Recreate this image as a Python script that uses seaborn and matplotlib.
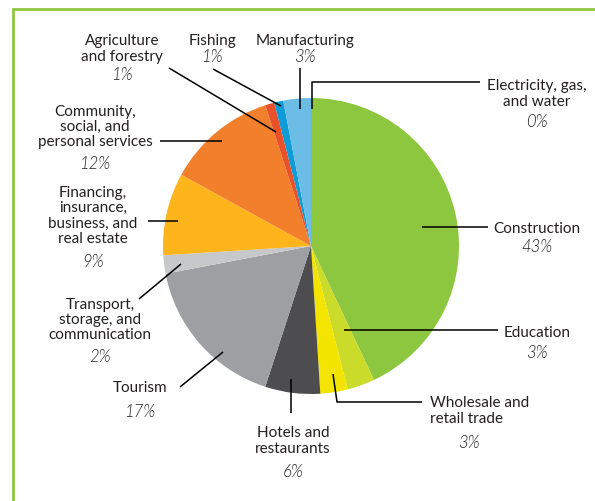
import matplotlib
matplotlib.use("Agg")
import matplotlib.pyplot as plt
import seaborn as sns
from matplotlib.patches import Rectangle

# Sector shares, clockwise from 12 o'clock
sectors = [
    "Construction", "Education", "Wholesale and\nretail trade", "Hotels and\nrestaurants",
    "Tourism", "Transport,\nstorage, and\ncommunication", "Financing,\ninsurance,\nbusiness, and\nreal estate",
    "Community,\nsocial, and\npersonal services", "Agriculture\nand forestry", "Fishing",
    "Manufacturing", "Electricity, gas,\nand water",
]
shares = [43, 3, 3, 6, 17, 2, 9, 12, 1, 1, 3, 0]
colors = [
    "#8DC63F", "#CBDB2A", "#F3E500", "#4D4D4F", "#9D9FA2", "#C7C8CA",
    "#FDB51B", "#F27F2C", "#E8512A", "#0F9BD7", "#6CBDE6", "#8DC63F",
]

sns.set_theme(style="white")
plt.rcParams["font.family"] = ["Lato", "DejaVu Sans"]

W, H = 595, 502
fig = plt.figure(figsize=(W / 100, H / 100), dpi=100)
ax = fig.add_axes([0, 0, 1, 1])


def Y(y):
    return H - y


# Green frame
ax.add_patch(Rectangle((12.5, Y(700)), 800, 700 - 10, fill=False,
                       edgecolor="#8DC63F", linewidth=2.0, zorder=0))

ax.pie(shares, colors=colors, startangle=90, counterclock=False,
       center=(311, Y(247)), radius=148, frame=True,
       wedgeprops=dict(linewidth=0))
ax.set_xlim(0, W)
ax.set_ylim(0, H)
ax.set_aspect("equal")
ax.axis("off")

txt = "#231F20"
fs = 11.0


def label(x, y_name, y_pct, name, pct, ha="center", pct_x=None):
    ax.text(x, Y(y_name), name, ha=ha, va="center", fontsize=fs, color=txt,
            linespacing=1.12)
    ax.text(pct_x if pct_x is not None else x, Y(y_pct), f"{pct}%", ha="center",
            va="center", fontsize=fs + 1, color=txt, style="italic",
            fontweight=300)


def leader(xs, ys):
    ax.plot(xs, [Y(v) for v in ys], color="black", linewidth=1.1,
            solid_capstyle="butt")


# Labels with leader lines
label(537, 229, 247, sectors[0], shares[0])
leader([422, 488], [228, 228])

label(537, 333, 353, sectors[1], shares[1])
leader([344, 498], [331, 331])

label(430, 411, 443, sectors[2], shares[2], ha="left", pct_x=469)
leader([333, 337, 422], [375, 403, 403])

label(293, 441, 472, sectors[3], shares[3])
leader([291, 291], [380, 414])

label(140, 388, 412, sectors[4], shares[4])
leader([180, 223], [388, 353])

label(100, 320, 357, sectors[5], shares[5])
leader([139, 181], [300, 265])

label(93, 216, 262, sectors[6], shares[6])
leader([148, 178], [222, 222])

label(95, 127, 164, sectors[7], shares[7])
leader([160, 222], [142, 142])

label(122, 49, 75, sectors[8], shares[8])
leader([169, 276], [69, 133])

label(212, 41, 57, sectors[9], shares[9])
leader([213, 281], [70, 107])

label(305, 41, 57, sectors[10], shares[10])
leader([300, 300], [69, 110])

label(537, 94, 122, sectors[11], shares[11])
leader([480, 312, 312], [83, 83, 110])

fig.savefig("out.png", dpi=100)
